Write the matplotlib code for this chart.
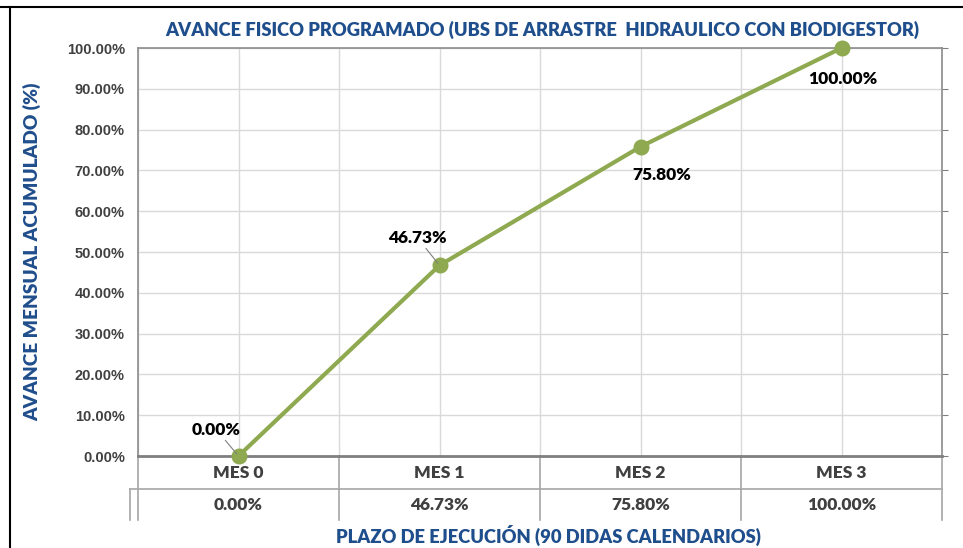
import matplotlib
matplotlib.use('Agg')
import numpy as np
import matplotlib.pyplot as plt
from matplotlib.lines import Line2D
from matplotlib.transforms import blended_transform_factory

# Data
meses = ['MES 0', 'MES 1', 'MES 2', 'MES 3']
avance = [0.0, 46.73, 75.80, 100.00]
etiquetas = ['0.00%', '46.73%', '75.80%', '100.00%']

azul = '#1F4E8C'
verde = '#8EA94F'
gris_texto = '#404040'
gris_rejilla = '#D9D9D9'
gris_tabla = '#A6A6A6'

fig = plt.figure(figsize=(9.63, 5.48), dpi=100)
ax = fig.add_axes([138 / 963, 92 / 548, 804 / 963, 408 / 548])

x = np.arange(len(meses))
y = np.array(avance) / 100
ax.plot(x, y, color=verde, lw=3, marker='o', markersize=10.5, zorder=3,
        clip_on=False)

ax.set_xlim(-0.5, 3.5)
ax.set_ylim(0, 1)

# Gridlines
ax.set_xticks(np.arange(-0.5, 3.6, 0.5))
ax.set_xticklabels([])
ax.tick_params(axis='x', length=0)
ax.set_yticks(np.arange(0, 1.01, 0.1))
ax.set_yticklabels(['%.2f%%' % (v * 100) for v in np.arange(0, 1.01, 0.1)],
                   fontfamily='Liberation Sans', fontweight='bold',
                   fontsize=10.5, color=gris_texto)
ax.tick_params(axis='y', left=False, right=True, direction='out', length=4,
               color='#808080', pad=5.5)
ax.grid(True, color=gris_rejilla, lw=1)
ax.set_axisbelow(True)
for s in ['top', 'right', 'left']:
    ax.spines[s].set_color('#8C8C8C')
    ax.spines[s].set_linewidth(1.2)
ax.spines['bottom'].set_color('#7F7F7F')
ax.spines['bottom'].set_linewidth(2)

# Data labels
offsets = [(-16, 19), (-16, 20), (15, -20), (1, -22)]
for xi, yi, lab, off in zip(x, y, etiquetas, offsets):
    leader = dict(arrowstyle='-', color='#7F7F7F', lw=0.8,
                  shrinkA=0, shrinkB=2) if off[1] > 0 else None
    ax.annotate(lab, (xi, yi), xytext=off, textcoords='offset points',
                ha='center', va='center', fontsize=12.5, fontweight='heavy',
                fontfamily='Lato', color='black', arrowprops=leader,
                annotation_clip=False)

# Data table below the axis
tr = blended_transform_factory(ax.transData, ax.transAxes)
r1 = -33 / 408
r2 = -64 / 408
xleg = -0.5 - 8 / 201
ax.add_line(Line2D([xleg, 3.5], [r1, r1], transform=tr, color=gris_tabla,
                   lw=1.2, clip_on=False))
for b in [-0.5, 0.5, 1.5, 2.5, 3.5]:
    ax.add_line(Line2D([b, b], [0, r2], transform=tr, color=gris_tabla,
                       lw=1.2, clip_on=False))
ax.add_line(Line2D([xleg, xleg], [r1, r2], transform=tr, color=gris_tabla,
                   lw=1.2, clip_on=False))
for xi, m, lab in zip(x, meses, etiquetas):
    ax.text(xi, r1 / 2, m, transform=tr, ha='center', va='center',
            fontsize=12.5, fontweight='heavy', fontfamily='Lato',
            color=gris_texto)
    ax.text(xi, (r1 + r2) / 2, lab, transform=tr, ha='center', va='center',
            fontsize=12.5, fontweight='heavy', fontfamily='Lato',
            color=gris_texto)

# Titles
fig.text(542 / 963, 1 - 30 / 548,
         'AVANCE FISICO PROGRAMADO (UBS DE ARRASTRE  HIDRAULICO CON BIODIGESTOR)',
         ha='center', va='center', fontsize=13.2, fontweight='heavy',
         fontfamily='Lato', color=azul)
fig.text(548 / 963, 1 - 535 / 548, 'PLAZO DE EJECUCIÓN (90 DIDAS CALENDARIOS)',
         ha='center', va='center', fontsize=13.2, fontweight='heavy',
         fontfamily='Lato', color=azul)
fig.text(32 / 963, 1 - 252 / 548, 'AVANCE MENSUAL ACUMULADO (%)',
         ha='center', va='center', rotation=90, fontsize=13.8,
         fontweight='heavy', fontfamily='Lato', color=azul)

# Outer frame
fig.add_artist(Line2D([0, 1], [1 - 7 / 548] * 2, color='black', lw=1.5))
fig.add_artist(Line2D([10 / 963] * 2, [0, 1 - 7 / 548], color='black', lw=1.5))

fig.savefig('out.png', dpi=100)
